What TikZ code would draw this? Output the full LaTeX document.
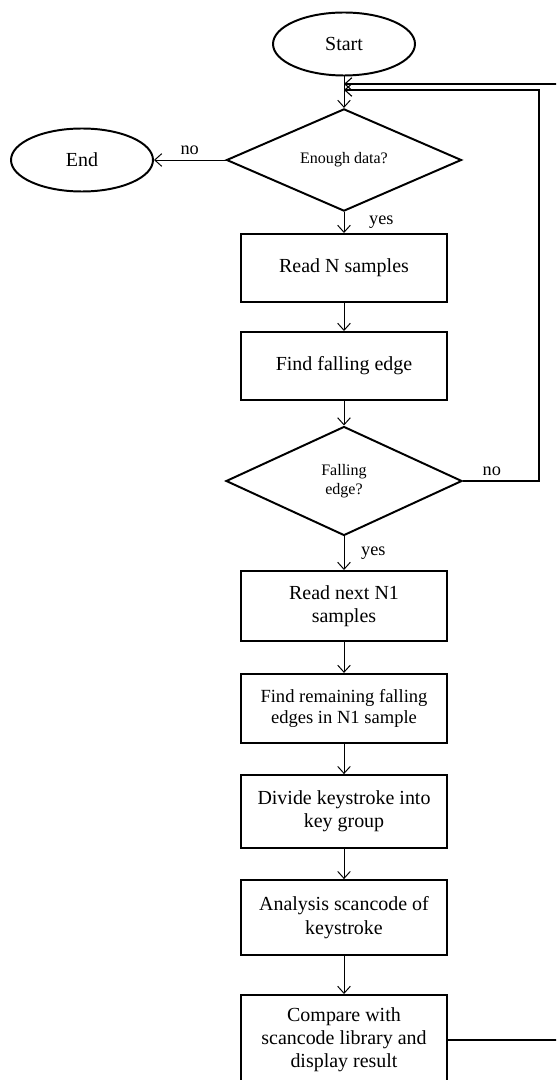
\documentclass[tikz,border=0pt]{standalone}
\usepackage{fontspec}
\setmainfont{Liberation Serif}
\usepackage{tikz}
\usetikzlibrary{positioning,arrows.meta,shapes.geometric}

\begin{document}
\begin{tikzpicture}[>={Straight Barb[length=5pt,width=9pt]},
  termnode/.style={draw, ellipse, line width=1.4pt, minimum width=3.55cm, minimum height=1.575cm, font=\fontsize{14.2}{16.5}\selectfont},
  decision/.style={draw, diamond, line width=1.4pt, inner sep=0pt, align=center, font=\fontsize{11.4}{13.5}\selectfont},
  procbox/.style={draw, rectangle, line width=1.4pt, minimum width=5.15cm, align=center, font=\fontsize{14.2}{16.5}\selectfont},
  flow/.style={->, line width=0.7pt},
  lbl/.style={font=\fontsize{13}{15}\selectfont}]
\clip (0,0) rectangle (13.9,-27);

\node[termnode] (start) at (8.6,-1.1) {Start};
\node[decision, minimum width=5.875cm, minimum height=2.375cm] (enough) at (8.6,-4.0) {Enough data?};
\node[termnode] (enddone) at (2.05,-4.0) {End};

\node[procbox, minimum height=1.7cm] (readn) at (8.6,-6.7) {Read N samples};
\node[procbox, minimum height=1.7cm] (findedge) at (8.6,-9.15) {Find falling edge};
\node[decision, minimum width=5.9cm, minimum height=2.725cm] (falling) at (8.6,-12.025) {Falling\\edge?};

\node[procbox, minimum height=1.75cm] (readnext) at (8.6,-15.15) {Read next N1\\samples};
\node[procbox, minimum height=1.725cm, font=\fontsize{13.2}{15.5}\selectfont] (findrem) at (8.6,-17.71) {Find remaining falling\\edges in N1 sample};
\node[procbox, minimum height=1.825cm] (divide) at (8.6,-20.29) {Divide keystroke into\\key group};
\node[procbox, minimum height=1.875cm] (analysis) at (8.6,-22.94) {Analysis scancode of\\keystroke};
\node[procbox, minimum height=2.25cm] (compare) at (8.6,-26.0) {Compare with\\scancode library and\\display result};

\coordinate (loopin) at (13.475,-2.25);
\coordinate (loopout) at (14.2,-2.1);

\draw[flow] (start) -- (enough);
\draw[flow] (enough) -- node[lbl, above] {no} (enddone);
\draw[flow] (enough) -- node[lbl, right, xshift=0.5cm] {yes} (readn);
\draw[flow] (readn) -- (findedge);
\draw[flow] (findedge) -- (falling);
\draw[flow] (falling) -- node[lbl, right, xshift=0.3cm] {yes} (readnext);
\draw[flow] (readnext) -- (findrem);
\draw[flow] (findrem) -- (divide);
\draw[flow] (divide) -- (analysis);
\draw[flow] (analysis) -- (compare);

% loops back to the top
\draw[flow, line width=0.8pt] (falling.east) -| node[lbl, pos=0.19, above] {no} (loopin) -- (start |- loopin);
\draw[flow, line width=0.8pt] (compare.east) -| (loopout) -- (start |- loopout);

\end{tikzpicture}
\end{document}
